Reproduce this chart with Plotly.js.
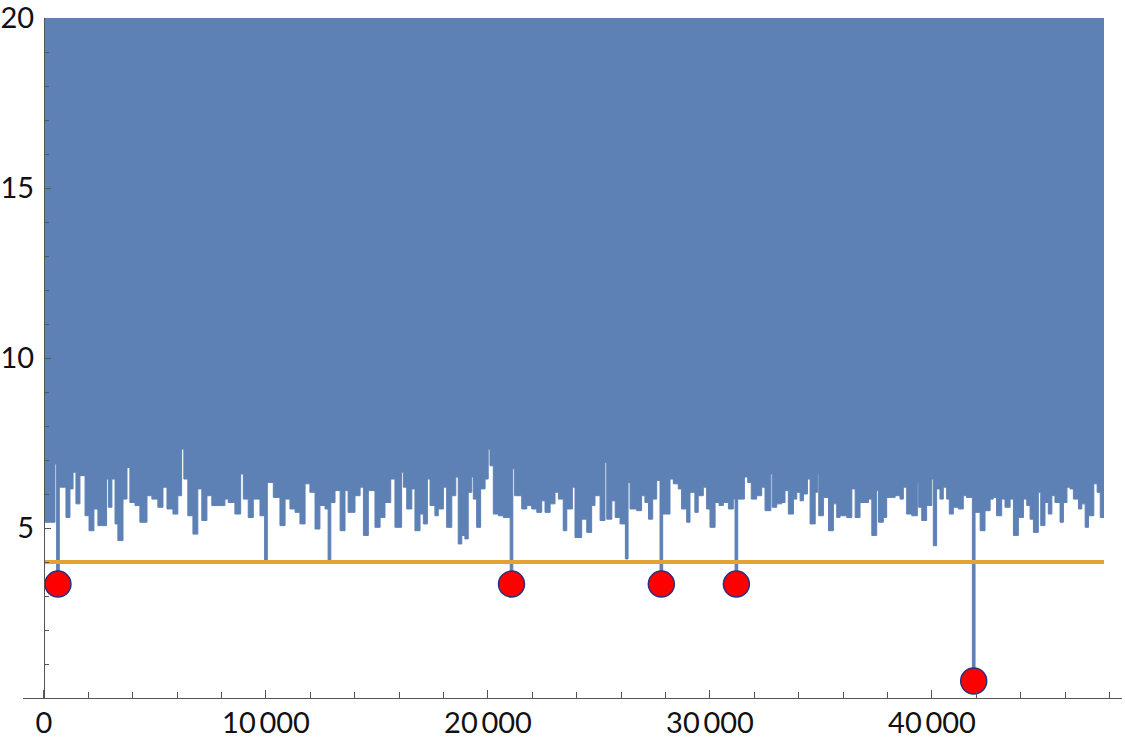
<!DOCTYPE html>
<html>
<head>
<meta charset="utf-8">
<script src="https://cdn.plot.ly/plotly-3.0.1.min.js"></script>
<style>
  html, body { margin: 0; padding: 0; background: #fff; }
  #chart { width: 1125px; height: 743px; }
</style>
</head>
<body>
<div id="chart"></div>
<script>
// lower envelope of the dense series (values above 20 are clipped by the plot range)
const envX = [0, 495, 570, 690, 990, 1170, 1310, 1440, 1620, 1850, 2030, 2250, 2430, 2820, 2900, 3060, 3200, 3330, 3560, 3740,
  3870, 4100, 4320, 4640, 4860, 5130, 5360, 5540, 5810, 6030, 6200, 6300, 6480, 6710, 6930, 7110, 7340, 7560, 8150, 8300,
  8600, 8860, 8980, 9200, 9430, 9730, 9940, 10060, 10330, 10630, 10860, 11080, 11310, 11530, 11760, 11980, 12210, 12430, 12660, 12800,
  12920, 13110, 13340, 13560, 13700, 14010, 14240, 14390, 14610, 14910, 15140, 15360, 15620, 15810, 16110, 16190, 16340, 16570, 16710, 16940,
  17090, 17270, 17390, 17610, 17760, 17990, 18140, 18370, 18550, 18660, 18820, 18960, 19110, 19270, 19340, 19490, 19670, 19870, 20010, 20090,
  20240, 20470, 20690, 21000, 21120, 21200, 21520, 21750, 21970, 22200, 22420, 22570, 22800, 23020, 23170, 23390, 23550, 23800, 23920, 24220,
  24450, 24670, 24820, 25050, 25270, 25350, 25580, 25730, 25950, 26190, 26310, 26400, 26700, 26920, 27070, 27230, 27420, 27600, 27750, 27870,
  28200, 28350, 28570, 28720, 28950, 29100, 29320, 29470, 29700, 29850, 30000, 30230, 30410, 30600, 30830, 31050, 31130, 31250, 31550, 31700,
  31860, 32100, 32330, 32480, 32740, 32800, 33010, 33230, 33380, 33530, 33760, 33910, 34060, 34210, 34390, 34510, 34740, 34840, 34900, 35110,
  35340, 35560, 35710, 35860, 36160, 36390, 36540, 36760, 37140, 37290, 37510, 37590, 37810, 37960, 38340, 38560, 38710, 38860, 39090, 39340,
  39400, 39540, 39760, 39990, 40060, 40210, 40360, 40510, 40660, 40780, 40960, 41190, 41410, 41560, 41820, 41940, 42170, 42390, 42620, 42760,
  42910, 43140, 43290, 43520, 43670, 43890, 44120, 44270, 44420, 44570, 44790, 44900, 45090, 45240, 45400, 45540, 45770, 45920, 46080, 46220,
  46370, 46600, 46750, 46900, 47050, 47290, 47440, 47580, 47750];
const envY = [5.17, 6.88, 3.35, 6.2, 5.31, 6.15, 6.64, 5.71, 6.54, 5.36, 4.92, 5.56, 5.07, 6.44, 5.61, 6.44, 5.12, 4.63, 5.85, 6.78,
  5.75, 5.66, 5.17, 5.95, 5.85, 5.61, 6.2, 5.56, 5.41, 5.95, 7.32, 6.44, 5.36, 4.82, 6.15, 5.22, 5.95, 5.66, 5.85, 5.75,
  5.41, 6.59, 5.85, 5.31, 5.85, 5.36, 4.05, 6.34, 5.9, 5.07, 5.85, 5.56, 5.46, 5.12, 6.3, 6.05, 4.97, 5.66, 5.56, 4.05,
  5.75, 6.1, 4.92, 6.1, 5.46, 5.95, 6.2, 4.78, 6.1, 5.02, 5.31, 5.75, 6.44, 5.02, 6.64, 6.2, 5.56, 6.15, 4.92, 5.41,
  5.12, 6.44, 5.66, 5.36, 5.56, 6.2, 5.02, 5.95, 6.5, 4.53, 4.78, 4.68, 6.05, 6.5, 5.85, 5.02, 6.15, 6.44, 7.32, 6.83,
  5.41, 5.36, 5.31, 3.35, 6.74, 5.95, 5.56, 5.66, 5.56, 5.46, 5.8, 5.46, 5.71, 6.05, 5.85, 4.92, 5.56, 6.2, 4.72, 5.26,
  4.87, 5.66, 5.95, 5.22, 6.93, 5.26, 5.8, 5.31, 5.12, 4.09, 6.34, 5.56, 5.51, 5.95, 5.75, 5.26, 5.85, 6.4, 3.35, 5.41,
  6.44, 6.3, 6.15, 5.56, 5.17, 6.05, 5.46, 5.95, 6.2, 5.56, 5.02, 5.75, 5.66, 5.75, 5.56, 5.85, 3.35, 5.85, 6.5, 6.34,
  5.85, 5.95, 6.2, 5.51, 6.59, 5.61, 5.71, 5.75, 6.1, 5.41, 5.85, 6.05, 5.8, 6.0, 6.44, 5.12, 6.05, 6.59, 5.36, 5.9,
  4.92, 5.71, 5.31, 5.36, 5.31, 6.15, 5.31, 5.75, 5.85, 4.78, 6.1, 5.17, 5.31, 5.9, 5.95, 5.85, 6.2, 5.41, 5.36, 6.3,
  5.61, 5.22, 5.66, 6.44, 4.48, 6.15, 5.85, 6.2, 5.85, 5.41, 5.61, 5.56, 5.95, 5.9, 0.5, 5.46, 4.92, 5.51, 5.85, 5.9,
  5.36, 5.85, 5.61, 5.85, 4.78, 5.31, 5.85, 5.66, 5.26, 4.87, 6.05, 5.07, 5.75, 5.41, 5.95, 5.75, 5.17, 5.75, 6.2, 6.15,
  5.85, 5.56, 5.71, 5.02, 5.36, 6.3, 6.05, 5.31, 5.31];

const ceilX = [0, 47750];
const ceilY = [20, 20];

const threshX = [0, 47750];
const threshY = [4, 4];

const dotX = [630, 21060, 27810, 31190, 41880];
const dotY = [3.35, 3.35, 3.35, 3.35, 0.5];

const xTickVals = [0, 10000, 20000, 30000, 40000];
const xTickText = ['0', '10\u2009000', '20\u2009000', '30\u2009000', '40\u2009000'];
const yTickVals = [5, 10, 15, 20];

const blue = '#5E81B5';
const axisCol = '#555555';

const traces = [
  {
    x: ceilX, y: ceilY, mode: 'lines',
    line: {width: 0, color: blue},
    hoverinfo: 'skip'
  },
  {
    x: envX, y: envY, mode: 'lines',
    line: {width: 1, color: blue, shape: 'hv'},
    fill: 'tonexty', fillcolor: blue
  },
  {
    x: threshX, y: threshY, mode: 'lines',
    line: {width: 4, color: '#E3A136'}
  },
  {
    x: dotX, y: dotY, mode: 'markers',
    marker: {size: 26, color: '#FF0000', line: {width: 1.5, color: '#2B2F7E'}}
  }
];

const layout = {
  width: 1125, height: 743,
  margin: {l: 23, r: 3, t: 18, b: 45},
  paper_bgcolor: 'white', plot_bgcolor: 'white',
  showlegend: false,
  font: {family: 'Lato, sans-serif', size: 29, color: '#111'},
  xaxis: {
    range: [-945, 48560],
    showgrid: false, zeroline: false,
    showline: true, linecolor: axisCol, linewidth: 1,
    ticks: 'inside', ticklen: 8, tickcolor: axisCol,
    tickmode: 'array', tickvals: xTickVals, ticktext: xTickText,
    minor: {tickmode: 'linear', tick0: 0, dtick: 2000, ticks: 'inside', ticklen: 6, tickcolor: axisCol},
    ticklabelstandoff: -1,
    ticklabeloverflow: 'allow'
  },
  yaxis: {
    range: [0, 20.0001],
    anchor: 'free', position: 21 / 1099,
    showgrid: false, zeroline: false,
    showline: true, linecolor: axisCol, linewidth: 1,
    ticks: 'inside', ticklen: 6, tickcolor: axisCol,
    tickmode: 'array', tickvals: yTickVals,
    minor: {tickmode: 'linear', tick0: 0, dtick: 1, ticks: 'inside', ticklen: 4, tickcolor: axisCol},
    ticklabelstandoff: 4,
    ticklabeloverflow: 'allow'
  }
};

Plotly.newPlot('chart', traces, layout, {displayModeBar: false, staticPlot: true});
</script>
</body>
</html>
